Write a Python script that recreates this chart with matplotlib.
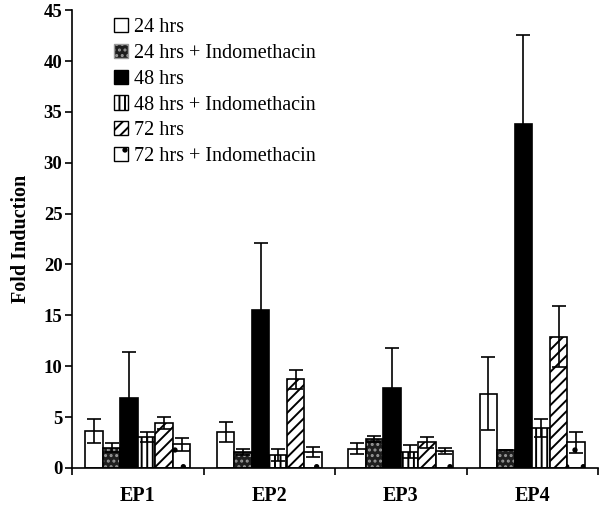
import matplotlib.pyplot as plt
import numpy as np
from matplotlib.patches import Patch

plt.rcParams['font.family'] = ['Liberation Serif', 'DejaVu Serif']
plt.rcParams['hatch.linewidth'] = 1.4

groups = ["EP1", "EP2", "EP3", "EP4"]
series = ["24 hrs", "24 hrs + Indomethacin", "48 hrs",
          "48 hrs + Indomethacin", "72 hrs", "72 hrs + Indomethacin"]
values = [
    [3.6, 3.5, 1.9, 7.3],
    [2.0, 1.6, 2.8, 1.8],
    [6.9, 15.5, 7.9, 33.8],
    [3.0, 1.3, 1.6, 3.9],
    [4.4, 8.7, 2.5, 12.9],
    [2.3, 1.6, 1.7, 2.5],
]
errors = [
    [1.2, 1.0, 0.5, 3.6],
    [0.4, 0.3, 0.3, 0.0],
    [4.5, 6.6, 3.9, 8.8],
    [0.5, 0.6, 0.6, 0.9],
    [0.6, 0.9, 0.5, 3.0],
    [0.6, 0.5, 0.3, 1.0],
]
# face colour, hatch, hatch colour
styles = [
    ("white", None, "black"),
    ("#1e1e1e", "...", "#999999"),
    ("black", None, "black"),
    ("white", "|||", "black"),
    ("white", "///", "black"),
    ("white", ".", "black"),
]

fig = plt.figure(figsize=(6.01, 5.08), dpi=100)
ax = fig.add_axes([0.12, 0.079, 0.875, 0.901])

x = np.arange(len(groups))
w = 0.8 / len(series)
handles = []
for i, (name, vals, errs) in enumerate(zip(series, values, errors)):
    fc, hatch, hc = styles[i]
    pos = x + 0.1 + w * (i + 0.5)
    ax.bar(pos, vals, w, color=fc, hatch=hatch, edgecolor=hc, linewidth=0)
    ax.bar(pos, vals, w, fill=False, edgecolor="black", linewidth=1.2)
    ax.errorbar(pos, vals, yerr=errs, fmt="none", ecolor="black",
                elinewidth=1.2, capsize=5, capthick=1.2)
    handles.append(Patch(facecolor=fc, hatch=hatch, edgecolor=hc if hatch else "black",
                         linewidth=1))

ax.set_xlim(0, 4)
ax.set_ylim(0, 45)
ax.set_yticks(range(0, 46, 5))
ax.set_xticks(range(0, 5))
ax.set_xticklabels([])
ax.set_xticks(x + 0.5, minor=True)
ax.set_xticklabels(groups, minor=True, fontweight="bold", fontsize=14.5)
ax.tick_params(axis="x", which="minor", length=0, pad=13)
ax.tick_params(axis="x", which="major", length=5, width=1.2, direction="out")
ax.tick_params(axis="y", length=5, width=1.2, labelsize=13.5, pad=2)
for t in ax.get_yticklabels():
    t.set_fontweight("bold")
ax.set_ylabel("Fold Induction", fontweight="bold", fontsize=14.5, labelpad=9)
ax.spines["top"].set_visible(False)
ax.spines["right"].set_visible(False)
ax.spines["left"].set_linewidth(1.2)
ax.spines["bottom"].set_linewidth(1.2)

ax.legend(handles, series, loc="upper left", bbox_to_anchor=(0.065, 1.0),
          frameon=False, fontsize=14.5, handlelength=0.7, handleheight=0.7,
          handletextpad=0.3, labelspacing=0.33, borderaxespad=0)

fig.savefig("out.png", dpi=100)
